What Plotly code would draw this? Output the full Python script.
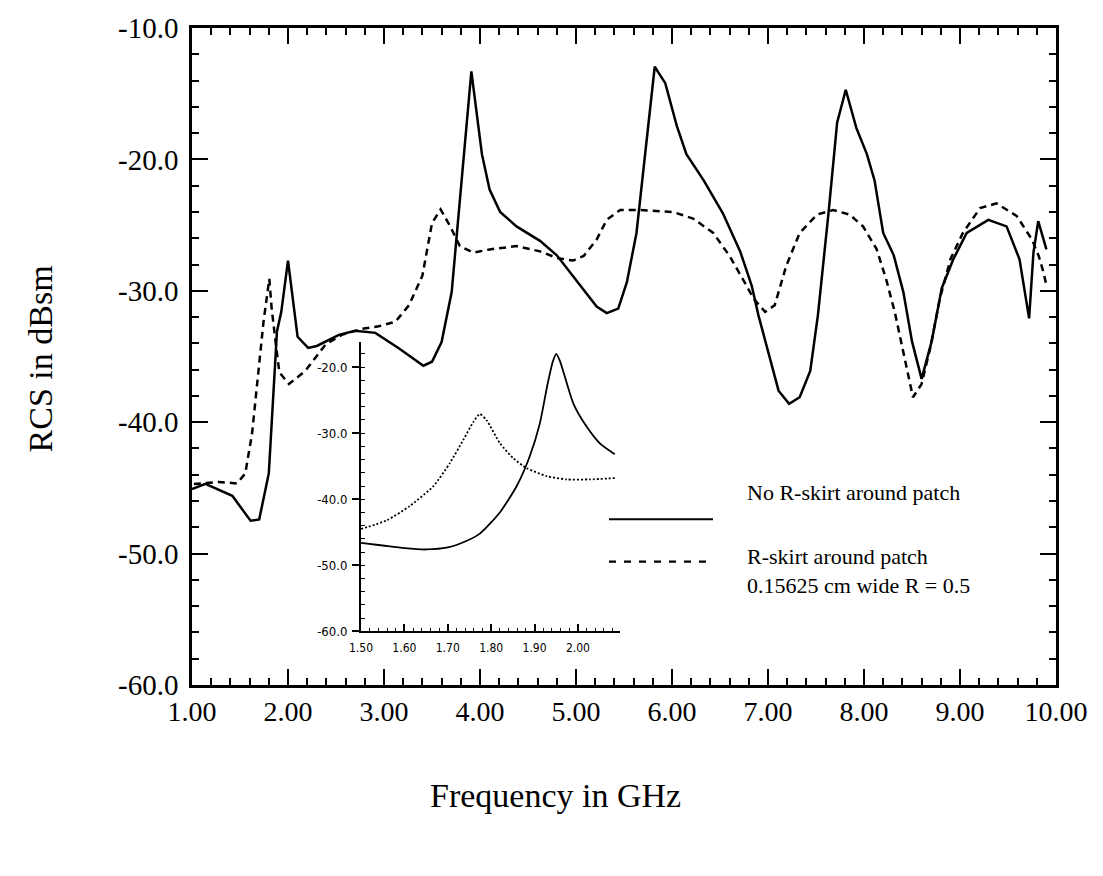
import plotly.graph_objects as go

# ---------------- data ----------------
freq_noskirt = [1.00, 1.14, 1.42, 1.61, 1.70, 1.80, 1.885, 1.93, 2.00, 2.10, 2.21, 2.30, 2.53, 2.70,
                2.91, 3.15, 3.41, 3.50, 3.60, 3.705, 3.91, 4.02, 4.10, 4.21, 4.38, 4.625, 4.80, 5.04,
                5.215, 5.32, 5.44, 5.53, 5.63, 5.82, 5.93, 6.05, 6.15, 6.33, 6.53, 6.71, 6.83, 6.90,
                7.11, 7.22, 7.33, 7.44, 7.52, 7.63, 7.72, 7.81, 7.92, 8.03, 8.11, 8.20, 8.31, 8.41,
                8.50, 8.60, 8.705, 8.81, 8.93, 9.07, 9.295, 9.485, 9.62, 9.72, 9.765, 9.815, 9.90]
rcs_noskirt = [-45.1, -44.7, -45.6, -47.5, -47.4, -43.9, -33.1, -31.6, -27.7, -33.5, -34.35, -34.2, -33.35, -33.05,
               -33.2, -34.35, -35.7, -35.4, -33.9, -30.1, -13.3, -19.6, -22.3, -24.0, -25.1, -26.2, -27.3, -29.6,
               -31.2, -31.7, -31.35, -29.35, -25.6, -12.95, -14.2, -17.45, -19.6, -21.6, -24.1, -27.0, -29.6, -31.85,
               -37.6, -38.6, -38.1, -36.1, -31.85, -24.1, -17.2, -14.7, -17.6, -19.6, -21.6, -25.6, -27.3, -30.1,
               -33.85, -36.7, -33.85, -29.8, -27.6, -25.6, -24.6, -25.1, -27.6, -32.1, -27.1, -24.7, -26.85]

freq_skirt = [1.02, 1.28, 1.47, 1.555, 1.625, 1.695, 1.745, 1.805, 1.83, 1.87, 1.91, 2.01, 2.18, 2.39,
              2.56, 2.77, 2.945, 3.12, 3.26, 3.40, 3.50, 3.59, 3.69, 3.79, 3.93, 4.10, 4.38, 4.625,
              4.80, 4.97, 5.08, 5.215, 5.32, 5.46, 5.67, 6.01, 6.22, 6.43, 6.60, 6.76, 6.85, 6.97,
              7.07, 7.19, 7.33, 7.51, 7.68, 7.85, 7.99, 8.13, 8.23, 8.32, 8.41, 8.51, 8.60, 8.69,
              8.79, 8.90, 9.03, 9.21, 9.38, 9.59, 9.75, 9.82, 9.87, 9.90]
rcs_skirt = [-44.7, -44.55, -44.66, -43.9, -40.9, -35.85, -32.35, -29.1, -31.35, -33.85, -36.2, -37.1, -36.1, -34.1,
             -33.35, -32.9, -32.7, -32.35, -31.1, -28.85, -24.85, -23.8, -25.1, -26.6, -27.1, -26.85, -26.6, -27.0,
             -27.5, -27.7, -27.35, -26.1, -24.6, -23.85, -23.85, -24.0, -24.5, -25.6, -27.35, -29.4, -30.6, -31.6,
             -31.1, -28.1, -25.6, -24.2, -23.85, -24.2, -25.1, -26.8, -29.1, -31.6, -34.6, -38.1, -37.1, -34.35,
             -30.6, -27.6, -25.6, -23.7, -23.35, -24.3, -26.1, -27.35, -28.6, -29.6]

inset_freq_noskirt = [1.50, 1.55, 1.60, 1.65, 1.70, 1.74, 1.774, 1.82, 1.859, 1.889, 1.912, 1.93, 1.942,
                      1.95, 1.958, 1.966, 1.99, 2.02, 2.05, 2.085]
inset_rcs_noskirt = [-46.6, -47.0, -47.4, -47.6, -47.3, -46.4, -45.2, -42.0, -38.0, -33.5, -28.6, -22.6, -19.2,
                     -18.0, -19.0, -20.6, -25.6, -29.0, -31.5, -33.2]

inset_freq_skirt = [1.50, 1.559, 1.613, 1.667, 1.705, 1.736, 1.759, 1.774, 1.79, 1.82, 1.851, 1.882, 1.928,
                    1.974, 2.027, 2.085]
inset_rcs_skirt = [-44.5, -43.2, -41.0, -38.0, -34.5, -31.0, -28.3, -27.1, -28.1, -31.5, -33.8, -35.3, -36.5,
                   -37.0, -37.0, -36.8]

x_ticks = [1, 2, 3, 4, 5, 6, 7, 8, 9, 10]
x_ticklabels = ["1.00", "2.00", "3.00", "4.00", "5.00", "6.00", "7.00", "8.00", "9.00", "10.00"]
y_ticks = [-60, -50, -40, -30, -20, -10]
y_ticklabels = ["-60.0", "-50.0", "-40.0", "-30.0", "-20.0", "-10.0"]

inset_x_ticks = [1.5, 1.6, 1.7, 1.8, 1.9, 2.0]
inset_x_ticklabels = ["1.50", "1.60", "1.70", "1.80", "1.90", "2.00"]
inset_y_ticks = [-60, -50, -40, -30, -20]
inset_y_ticklabels = ["-60.0", "-50.0", "-40.0", "-30.0", "-20.0"]

legend_labels = ["No R-skirt around patch", "R-skirt around patch<br>0.15625 cm wide R = 0.5"]
x_title = "Frequency in GHz"
y_title = "RCS in dBsm"

# ---------------- layout geometry ----------------
W, H = 1103, 876
L, R, T, B = 192, 47, 19, 191
PW, PH = W - L - R, H - T - B


def px(x):
    return (x - L) / PW


def py(y):
    return (H - B - y) / PH


SERIF = "Liberation Serif, Times New Roman, serif"
NARROW = "DejaVu Sans Condensed, Liberation Sans Narrow, Arial Narrow, sans-serif"

fig = go.Figure()
fig.add_trace(go.Scatter(x=freq_noskirt, y=rcs_noskirt, mode="lines",
                         line=dict(color="black", width=2.5), xaxis="x", yaxis="y", showlegend=False))
fig.add_trace(go.Scatter(x=freq_skirt, y=rcs_skirt, mode="lines",
                         line=dict(color="black", width=2.5, dash="7px,5px"), xaxis="x", yaxis="y",
                         showlegend=False))
fig.add_trace(go.Scatter(x=inset_freq_noskirt, y=inset_rcs_noskirt, mode="lines",
                         line=dict(color="black", width=1.8, shape="spline", smoothing=0.6),
                         xaxis="x2", yaxis="y2", showlegend=False))
fig.add_trace(go.Scatter(x=inset_freq_skirt, y=inset_rcs_skirt, mode="lines",
                         line=dict(color="black", width=1.8, dash="2px,2px", shape="spline", smoothing=0.6),
                         xaxis="x2", yaxis="y2", showlegend=False))

axis_common = dict(showgrid=False, zeroline=False, showline=True, linecolor="black", color="black")

fig.update_layout(
    width=W, height=H,
    margin=dict(l=L, r=R, t=T, b=B, pad=0),
    paper_bgcolor="white", plot_bgcolor="rgba(0,0,0,0)",
    xaxis=dict(axis_common, domain=[0, 1], range=[1, 10], mirror="ticks", linewidth=2.5,
               ticks="inside", ticklen=16, tickwidth=2, tickcolor="black",
               tickvals=x_ticks, ticktext=x_ticklabels, ticklabelstandoff=0,
               tickfont=dict(family=SERIF, size=28, color="black"),
               minor=dict(ticks="inside", ticklen=7, tickwidth=2, tickcolor="black", dtick=0.2,
                          tick0=1, showgrid=False)),
    yaxis=dict(axis_common, domain=[0, 1], range=[-60, -10], mirror="ticks", linewidth=2.5,
               ticks="inside", ticklen=16, tickwidth=2, tickcolor="black",
               tickvals=y_ticks, ticktext=y_ticklabels, ticklabelstandoff=5,
               tickfont=dict(family=SERIF, size=29, color="black"),
               minor=dict(ticks="inside", ticklen=7, tickwidth=2, tickcolor="black", dtick=2,
                          tick0=-60, showgrid=False)),
    xaxis2=dict(axis_common, domain=[px(361), px(620)], range=[1.5, 2.097], anchor="y2",
                linewidth=2, ticks="inside", ticklen=7, tickwidth=1.5, tickcolor="black",
                tickvals=inset_x_ticks, ticktext=inset_x_ticklabels, ticklabelstandoff=4,
                tickfont=dict(family=NARROW, size=12, color="black"),
                minor=dict(ticks="inside", ticklen=3.5, tickwidth=1.2, tickcolor="black", dtick=0.02,
                           tick0=1.5, showgrid=False)),
    yaxis2=dict(axis_common, domain=[py(630.7), py(337)], range=[-60, -60 + (630.7 - 337) / 6.7],
                anchor="x2", linewidth=2, ticks="outside", ticklen=7, tickwidth=1.5, tickcolor="black",
                tickvals=inset_y_ticks, ticktext=inset_y_ticklabels, ticklabelstandoff=2,
                tickfont=dict(family=NARROW, size=13, color="black"),
                minor=dict(ticks="inside", ticklen=3.5, tickwidth=1.2, tickcolor="black", dtick=2,
                           tick0=-60, showgrid=False)),
    showlegend=False,
)

# legend drawn as samples + text
fig.add_shape(type="line", xref="paper", yref="paper", x0=px(609), x1=px(713), y0=py(517), y1=py(517),
              line=dict(color="black", width=2.2))
fig.add_shape(type="line", xref="paper", yref="paper", x0=px(609), x1=px(713), y0=py(560), y1=py(560),
              line=dict(color="black", width=2.2, dash="7px,8px"))
fig.add_annotation(xref="paper", yref="paper", x=px(745), y=py(490), text=legend_labels[0],
                   showarrow=False, xanchor="left", yanchor="middle", align="left",
                   font=dict(family=SERIF, size=22, color="black"))
fig.add_annotation(xref="paper", yref="paper", x=px(745), y=py(569), text=legend_labels[1],
                   showarrow=False, xanchor="left", yanchor="middle", align="left",
                   font=dict(family=SERIF, size=22, color="black"))

# axis titles
fig.add_annotation(xref="paper", yref="paper", x=px(555), y=py(797), text=x_title, showarrow=False,
                   xanchor="center", yanchor="middle", font=dict(family=SERIF, size=34, color="black"))
fig.add_annotation(xref="paper", yref="paper", x=px(40), y=py(355), text=y_title, showarrow=False,
                   textangle=-90, xanchor="center", yanchor="middle",
                   font=dict(family=SERIF, size=34, color="black"))

fig.write_html("out.html")
